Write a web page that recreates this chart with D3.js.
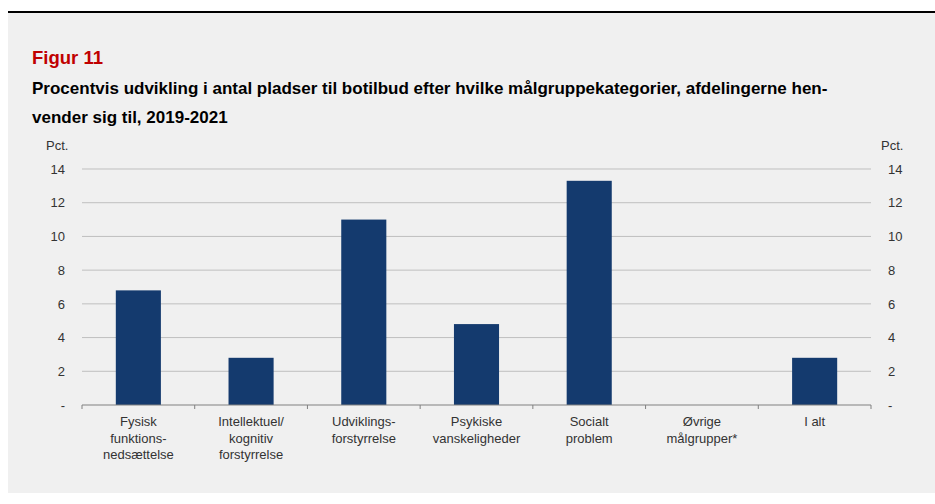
<!DOCTYPE html>
<html>
<head>
<meta charset="utf-8">
<script src="https://cdn.jsdelivr.net/npm/d3@7"></script>
<style>
  body { margin: 0; background: #ffffff; }
  svg { display: block; font-family: "Liberation Sans", Arial, sans-serif; }
</style>
</head>
<body>
<div id="chart"></div>
<script>
// data
const categories = [
  ["Fysisk", "funktions-", "nedsættelse"],
  ["Intellektuel/", "kognitiv", "forstyrrelse"],
  ["Udviklings-", "forstyrrelse"],
  ["Psykiske", "vanskeligheder"],
  ["Socialt", "problem"],
  ["Øvrige", "målgrupper*"],
  ["I alt"]
];
const values = [6.8, 2.8, 11.0, 4.8, 13.3, 0, 2.8];
const yTicks = [0, 2, 4, 6, 8, 10, 12, 14];
const yTickLabels = ["-", "2", "4", "6", "8", "10", "12", "14"];

const width = 935;
const height = 504;
const margin = { top: 169, right: 64, bottom: 99, left: 82 };
const plotW = width - margin.left - margin.right;
const plotH = height - margin.top - margin.bottom;

const svg = d3.select("#chart")
  .append("svg")
  .attr("width", width)
  .attr("height", height);

// panel background + top rule
svg.append("rect")
  .attr("x", 8).attr("y", 12)
  .attr("width", width - 8).attr("height", 481)
  .attr("fill", "#f0f0f0");
svg.append("line")
  .attr("x1", 8).attr("x2", width)
  .attr("y1", 12).attr("y2", 12)
  .attr("stroke", "#000").attr("stroke-width", 2);

// titles
svg.append("text")
  .attr("x", 32).attr("y", 64)
  .attr("font-size", "18.5px")
  .attr("font-weight", "bold")
  .attr("fill", "#c00000")
  .text("Figur 11");

const titleLines = [
  "Procentvis udvikling i antal pladser til botilbud efter hvilke målgruppekategorier, afdelingerne hen-",
  "vender sig til, 2019-2021"
];
svg.append("text")
  .attr("x", 32).attr("y", 94)
  .attr("font-size", "17px")
  .attr("font-weight", "bold")
  .attr("fill", "#000")
  .selectAll("tspan")
  .data(titleLines)
  .enter().append("tspan")
  .attr("x", 32)
  .attr("dy", (d, i) => i === 0 ? 0 : 29)
  .text(d => d);

// scales
const x = d3.scaleBand()
  .domain(d3.range(categories.length))
  .range([0, plotW])
  .paddingInner(0.6)
  .paddingOuter(0.3);

const y = d3.scaleLinear()
  .domain([0, 14])
  .range([plotH, 0]);

const g = svg.append("g")
  .attr("transform", `translate(${margin.left}, ${margin.top})`);

// gridlines
g.selectAll(".grid")
  .data(yTicks.filter(d => d > 0))
  .enter().append("line")
  .attr("x1", 0).attr("x2", plotW)
  .attr("y1", d => y(d)).attr("y2", d => y(d))
  .attr("stroke", "#bfbfbf")
  .attr("stroke-width", 1);

// axis labels
const fmt = d => yTickLabels[yTicks.indexOf(d)];
const yLeft = d3.axisLeft(y).tickValues(yTicks).tickFormat(fmt).tickSize(0).tickPadding(17);
const yRight = d3.axisRight(y).tickValues(yTicks).tickFormat(fmt).tickSize(0).tickPadding(17);

const gl = g.append("g").call(yLeft);
const gr = g.append("g").attr("transform", `translate(${plotW}, 0)`).call(yRight);
[gl, gr].forEach(a => {
  a.select(".domain").remove();
  a.selectAll("text").attr("font-size", "13px").attr("fill", "#333").attr("font-family", "Liberation Sans, Arial, sans-serif");
});

svg.append("text")
  .attr("x", 46).attr("y", 150)
  .attr("font-size", "13px").attr("fill", "#333")
  .text("Pct.");
svg.append("text")
  .attr("x", 881).attr("y", 150)
  .attr("font-size", "13px").attr("fill", "#333")
  .text("Pct.");

// bars
g.selectAll(".bar")
  .data(values)
  .enter().append("rect")
  .attr("x", (d, i) => x(i))
  .attr("width", x.bandwidth())
  .attr("y", d => y(d))
  .attr("height", d => plotH - y(d))
  .attr("fill", "#143a6e");

// x axis with tick marks at category boundaries
g.append("line")
  .attr("x1", 0).attr("x2", plotW)
  .attr("y1", y(0)).attr("y2", y(0))
  .attr("stroke", "#808080").attr("stroke-width", 1);

g.selectAll(".xtick")
  .data(d3.range(categories.length + 1))
  .enter().append("line")
  .attr("x1", i => i * x.step()).attr("x2", i => i * x.step())
  .attr("y1", y(0)).attr("y2", y(0) + 4)
  .attr("stroke", "#808080");

const labels = g.selectAll(".xlabel")
  .data(categories)
  .enter().append("text")
  .attr("text-anchor", "middle")
  .attr("font-size", "13px")
  .attr("fill", "#333")
  .attr("transform", (d, i) => `translate(${x(i) + x.bandwidth() / 2}, ${y(0) + 21})`);

labels.selectAll("tspan")
  .data(d => d)
  .enter().append("tspan")
  .attr("x", 0)
  .attr("dy", (d, i) => i === 0 ? 0 : 16.5)
  .text(d => d);
</script>
</body>
</html>
